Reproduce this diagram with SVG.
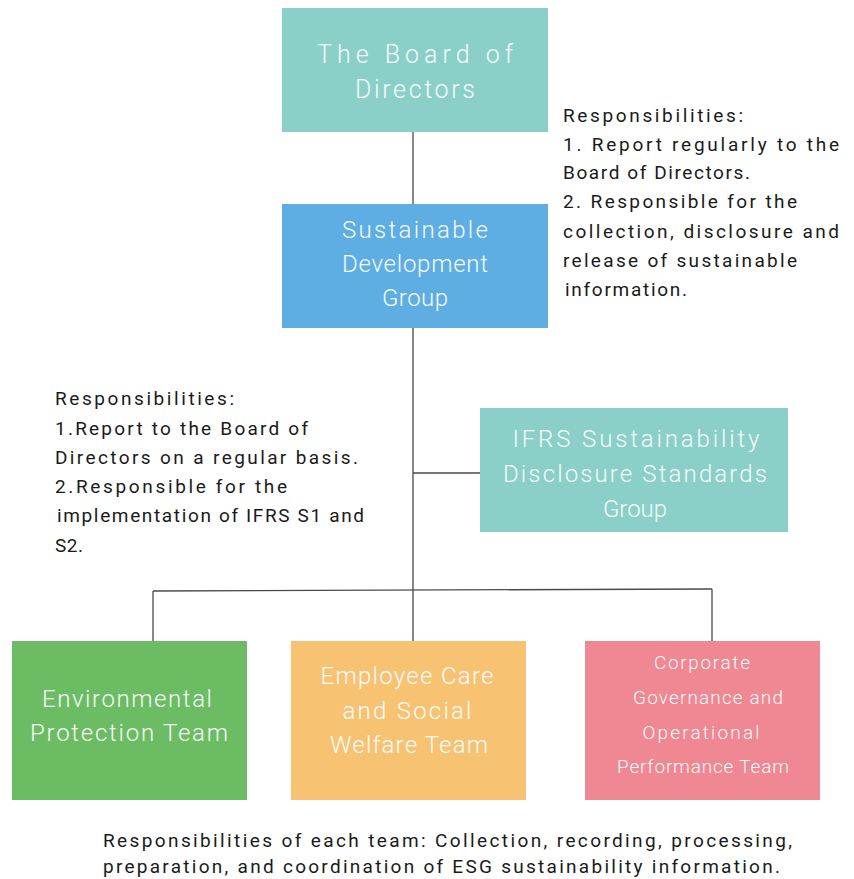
<svg xmlns="http://www.w3.org/2000/svg" width="854" height="879" viewBox="0 0 854 879">
  <style>
    .bg { fill: #ffffff; }
    .teal { fill: #8acfc8; }
    .blue { fill: #5eaee3; }
    .green { fill: #6bbc63; }
    .orange { fill: #f7c373; }
    .pink { fill: #ef8892; }
    .box-label { font-family: Roboto, "Liberation Sans", sans-serif; font-weight: 300; fill: #f6fbfa; text-anchor: middle; }
    .note { font-family: Roboto, "Liberation Sans", sans-serif; font-size: 19px; fill: #1a1a1a; }
    .link { stroke: #4a4a4a; stroke-width: 1.3; fill: none; }
  </style>
  <rect class="bg" x="0" y="0" width="854" height="879"/>

  <!-- connectors -->
  <g id="connectors">
    <line class="link" x1="413" y1="132" x2="413" y2="204"/>
    <line class="link" x1="413" y1="328" x2="413" y2="641"/>
    <line class="link" x1="413" y1="473" x2="480" y2="473"/>
    <line class="link" x1="153" y1="591" x2="712" y2="589"/>
    <line class="link" x1="153" y1="591" x2="153" y2="641"/>
    <line class="link" x1="712" y1="589" x2="712" y2="641"/>
  </g>

  <g id="board">
    <rect class="teal" x="282" y="8" width="266" height="124"/>
    <text class="box-label" font-size="25" x="415" y="63" textLength="196" lengthAdjust="spacing">The Board of</text>
    <text class="box-label" font-size="25" x="415" y="98" textLength="120" lengthAdjust="spacing">Directors</text>
  </g>

  <g id="sdg">
    <rect class="blue" x="282" y="204" width="266" height="124"/>
    <text class="box-label" font-size="24" x="415" y="238" textLength="146" lengthAdjust="spacing">Sustainable</text>
    <text class="box-label" font-size="24" x="415" y="272" textLength="146" lengthAdjust="spacing">Development</text>
    <text class="box-label" font-size="24" x="415" y="306" textLength="66" lengthAdjust="spacing">Group</text>
  </g>

  <g id="ifrs">
    <rect class="teal" x="480" y="408" width="308" height="124"/>
    <text class="box-label" font-size="24" x="636" y="447" textLength="247" lengthAdjust="spacing">IFRS Sustainability</text>
    <text class="box-label" font-size="24" x="635" y="482" textLength="264" lengthAdjust="spacing">Disclosure Standards</text>
    <text class="box-label" font-size="24" x="635" y="517" textLength="64" lengthAdjust="spacing">Group</text>
  </g>

  <g id="env-team">
    <rect class="green" x="12" y="641" width="235" height="159"/>
    <text class="box-label" font-size="24" x="127" y="707" textLength="170" lengthAdjust="spacing">Environmental</text>
    <text class="box-label" font-size="24" x="129" y="741" textLength="198" lengthAdjust="spacing">Protection Team</text>
  </g>

  <g id="care-team">
    <rect class="orange" x="291" y="641" width="235" height="159"/>
    <text class="box-label" font-size="24" x="407" y="684" textLength="173" lengthAdjust="spacing">Employee Care</text>
    <text class="box-label" font-size="24" x="407" y="719" textLength="129" lengthAdjust="spacing">and Social</text>
    <text class="box-label" font-size="24" x="409" y="753" textLength="158" lengthAdjust="spacing">Welfare Team</text>
  </g>

  <g id="gov-team">
    <rect class="pink" x="585" y="641" width="235" height="159"/>
    <text class="box-label" font-size="19" x="702" y="669" textLength="96" lengthAdjust="spacing">Corporate</text>
    <text class="box-label" font-size="19" x="708" y="704" textLength="150" lengthAdjust="spacing">Governance and</text>
    <text class="box-label" font-size="19" x="701" y="739" textLength="117" lengthAdjust="spacing">Operational</text>
    <text class="box-label" font-size="19" x="703" y="773" textLength="172" lengthAdjust="spacing">Performance Team</text>
  </g>

  <g id="sdg-notes">
    <text class="note" x="563" y="122" textLength="180" lengthAdjust="spacing">Responsibilities:</text>
    <text class="note" x="563" y="151" textLength="276" lengthAdjust="spacing">1. Report regularly to the</text>
    <text class="note" x="563" y="179" textLength="187" lengthAdjust="spacing">Board of Directors.</text>
    <text class="note" x="563" y="208" textLength="234" lengthAdjust="spacing">2. Responsible for the</text>
    <text class="note" x="563" y="238" textLength="276" lengthAdjust="spacing">collection, disclosure and</text>
    <text class="note" x="563" y="267" textLength="234" lengthAdjust="spacing">release of sustainable</text>
    <text class="note" x="565" y="296" textLength="122" lengthAdjust="spacing">information.</text>
  </g>

  <g id="ifrs-notes">
    <text class="note" x="55" y="405" textLength="179" lengthAdjust="spacing">Responsibilities:</text>
    <text class="note" x="55" y="435" textLength="253" lengthAdjust="spacing">1.Report to the Board of</text>
    <text class="note" x="55" y="464" textLength="303" lengthAdjust="spacing">Directors on a regular basis.</text>
    <text class="note" x="55" y="493" textLength="232" lengthAdjust="spacing">2.Responsible for the</text>
    <text class="note" x="57" y="522" textLength="307" lengthAdjust="spacing">implementation of IFRS S1 and</text>
    <text class="note" x="55" y="552" textLength="28" lengthAdjust="spacing">S2.</text>
  </g>

  <g id="team-notes">
    <text class="note" x="103" y="847" textLength="689" lengthAdjust="spacing">Responsibilities of each team: Collection, recording, processing,</text>
    <text class="note" x="103" y="873" textLength="677" lengthAdjust="spacing">preparation, and coordination of ESG sustainability information.</text>
  </g>
</svg>
